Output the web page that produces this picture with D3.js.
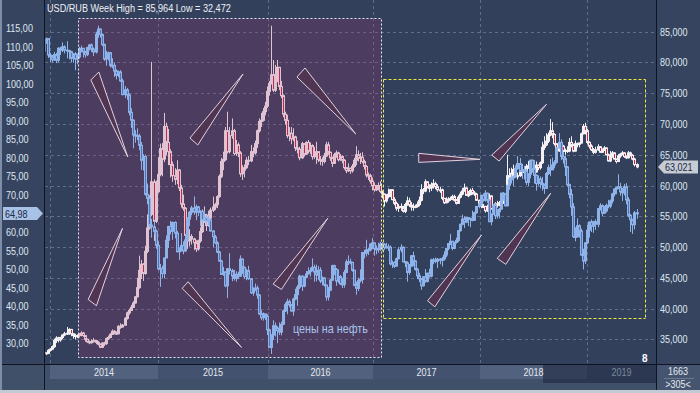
<!DOCTYPE html>
<html><head><meta charset="utf-8">
<script src="https://cdn.jsdelivr.net/npm/d3@7"></script>
<style>body{margin:0;background:#34425f;overflow:hidden}svg{display:block}</style>
</head><body>
<script>
// ---------- DATA ----------
const firstWeek = "2013-12-09";            // Monday of the first weekly candle
const years = ["2014","2015","2016","2017","2018","2019"];
const oilTicks = [30,35,40,45,50,55,60,65,70,75,80,85,90,95,100,105,110,115];
const rubTicks = [35,40,45,50,55,60,65,70,75,80,85];
const titleSymbol = "USD/RUB Week";
const oilText = "цены на нефть";
const infoTop = "1663", infoBottom = ">305<", cornerMark = "8";

// Brent, weekly (left axis)
const oilClose = [108.8,111.8,112.2,
107.8,107.3,106.5,107.9,106.4,109.6,109.1,110.0,109.1,109.0,108.7,106.9,108.1,106.7,107.3,109.5,109.6,108.6,107.9,109.8,110.5,109.4,108.6,113.4,114.8,113.3,110.6,106.7,107.2,108.4,105.0,105.0,103.5,102.3,103.2,100.8,97.1,98.4,97.0,92.3,90.2,86.2,86.1,85.9,83.4,79.4,80.4,70.2,69.1,61.9,61.4,60.2,
56.4,50.1,50.2,48.8,53.0,57.8,61.5,60.2,62.6,59.7,54.7,55.3,56.4,54.9,57.9,63.5,65.3,66.5,65.4,66.8,65.4,65.6,63.3,63.9,63.0,63.3,60.3,58.7,57.1,54.6,52.2,48.6,49.2,45.5,50.1,49.6,48.1,47.5,48.6,48.1,52.7,50.5,48.0,49.6,47.4,43.6,44.7,44.9,43.0,37.9,36.9,37.9,
37.3,33.6,28.9,32.2,34.7,34.1,33.4,33.0,35.1,38.7,40.4,41.2,40.4,38.7,41.9,43.1,45.1,48.1,45.4,47.8,48.7,49.3,49.6,50.5,49.2,48.4,49.7,46.8,47.6,45.7,42.5,44.3,47.0,50.9,49.9,46.8,48.0,46.0,45.9,49.1,51.9,52.0,51.8,49.7,45.6,44.8,46.9,47.2,54.5,54.3,55.2,55.2,56.8,
57.1,55.5,55.5,55.5,56.8,56.7,55.8,56.0,55.9,51.4,51.8,50.8,52.8,55.2,55.9,52.0,51.7,49.1,50.8,53.6,52.2,49.95,48.2,47.4,45.5,47.9,46.7,48.9,48.1,52.5,52.4,52.1,52.7,52.4,52.75,53.8,55.6,56.9,57.5,55.6,57.2,57.75,60.4,62.1,63.5,62.7,63.9,63.7,63.4,63.2,65.25,66.9,
67.6,69.9,68.6,70.5,68.6,62.8,64.8,67.3,64.4,65.5,66.2,70.5,70.3,67.1,72.6,74.1,74.6,74.9,77.1,78.5,76.4,76.8,76.5,73.4,75.6,79.4,77.1,75.3,73.1,74.3,73.2,72.8,71.8,75.8,77.4,76.8,78.1,78.8,82.7,84.2,80.4,79.8,77.6,72.8,70.2,66.8,58.8,58.7,61.7,60.3,53.8,52.2,
57.1,60.5,62.7,61.6,62.8,62.1,66.3,67.1,65.1,65.7,67.2,67.0,68.4,70.3,71.6,72.0,72.2,70.85,70.6,72.2,68.7,64.5,63.3,62.0,65.2,64.98];
const oilHigh = [110.0,111.9,112.5,
112.3,108.4,107.8,108.6,108.4,109.9,110.0,111.2,110.4,111.5,109.2,108.9,108.3,108.6,108.2,110.0,110.3,109.7,108.9,110.0,110.7,110.9,109.8,114.1,115.7,114.9,113.6,110.9,108.9,108.7,108.5,106.9,105.8,103.9,103.6,103.7,101.4,99.4,98.9,97.4,93.4,90.4,87.5,88.0,86.5,84.3,81.0,80.9,73.1,70.0,63.6,62.9,
60.7,57.5,51.4,50.9,53.1,59.1,61.7,63.0,62.8,62.9,60.3,55.9,59.7,57.5,59.3,64.0,65.7,67.1,69.6,67.4,67.0,65.9,65.9,65.8,64.6,64.4,63.6,60.5,59.2,57.5,54.9,52.5,50.6,49.4,50.3,54.3,50.1,49.8,49.4,49.3,53.7,52.9,50.7,50.1,50.9,47.6,45.1,46.1,45.6,43.2,38.9,38.3,
38.0,37.8,33.9,32.4,36.2,35.6,34.6,35.6,35.8,39.1,41.0,42.0,41.8,40.6,42.3,44.7,45.7,48.5,48.3,48.1,49.5,50.5,50.4,52.9,51.2,51.2,50.8,50.5,48.0,47.8,45.8,45.2,47.4,51.2,51.2,50.3,49.9,48.4,47.6,49.8,52.6,53.7,52.8,52.0,49.8,46.6,47.7,49.9,54.6,55.2,57.9,55.8,56.9,
58.4,57.1,56.4,57.1,57.4,57.3,57.0,57.1,56.8,56.4,52.3,52.1,53.1,55.9,56.7,56.1,52.2,52.1,51.4,53.8,54.7,52.4,50.3,49.0,47.6,48.1,50.0,49.0,50.1,52.8,53.0,53.1,53.0,53.0,53.3,54.8,55.7,57.0,59.5,57.6,57.4,58.5,60.5,62.3,64.7,64.3,64.1,64.0,63.9,65.8,65.5,67.0,
68.3,70.1,70.4,71.3,70.6,69.0,65.0,67.5,67.8,66.2,66.5,70.6,70.8,70.4,72.7,74.8,75.5,75.3,78.0,80.5,80.0,78.4,77.9,77.1,75.9,79.5,79.6,79.4,75.6,75.3,75.0,74.9,73.1,76.2,78.2,79.7,80.1,79.4,82.9,86.7,85.0,81.6,80.7,77.8,73.1,71.6,67.8,61.3,63.7,62.1,60.9,55.5,
57.3,61.9,62.8,63.4,63.0,63.4,66.5,67.8,67.5,67.1,67.7,68.7,68.8,70.6,71.8,72.3,75.6,73.3,71.9,73.0,73.2,69.4,64.9,63.6,65.7,66.2];
const oilLow = [107.5,108.5,110.8,
107.0,105.9,105.8,106.2,105.6,105.8,107.8,108.6,108.2,106.9,106.6,105.9,105.7,103.7,105.3,106.8,108.5,107.1,107.1,107.5,109.0,108.6,107.5,108.2,112.4,112.5,110.2,106.2,104.9,106.3,104.4,104.2,101.9,101.2,101.8,100.6,96.9,96.2,95.7,91.5,88.1,82.6,84.1,84.8,82.1,76.8,76.6,69.8,67.5,61.2,58.5,59.2,
55.5,49.7,45.2,47.5,47.5,53.0,55.7,59.4,57.9,58.3,54.5,52.5,54.7,54.0,54.7,57.4,61.6,64.5,64.7,63.2,64.3,61.6,61.9,62.7,61.9,61.9,60.1,55.9,56.7,54.3,52.0,48.4,48.2,45.1,42.2,48.5,46.7,46.9,46.6,47.3,47.9,48.7,47.4,47.0,47.1,43.3,42.8,44.1,42.0,37.7,36.2,36.1,
36.3,32.2,28.8,27.1,30.9,31.8,30.0,32.2,32.1,35.0,38.4,37.8,39.7,38.5,37.4,41.6,40.1,44.6,44.1,45.1,47.5,48.6,48.0,49.4,46.6,46.7,47.1,46.2,45.6,45.3,41.5,41.5,44.2,46.9,48.4,45.5,46.2,45.7,44.9,45.0,48.9,51.1,51.3,49.3,45.4,43.1,44.1,46.4,46.1,52.9,53.4,53.8,54.8,
55.4,53.6,54.0,54.4,54.9,54.8,55.2,55.5,54.9,51.0,50.3,50.3,50.7,52.6,54.5,51.8,50.5,46.6,48.5,50.6,50.8,49.6,47.3,46.5,44.4,45.3,46.3,46.4,47.7,47.8,51.3,51.6,50.3,51.3,50.7,52.3,53.2,55.1,56.5,55.1,55.4,56.9,57.3,60.1,61.8,61.1,62.4,61.6,61.3,62.9,63.0,64.9,
66.4,67.0,68.2,68.2,67.8,62.7,61.8,64.6,63.5,63.6,63.7,66.0,68.6,66.9,66.9,71.4,73.1,72.4,74.6,76.8,76.2,74.4,74.2,72.7,72.3,74.5,76.0,73.1,71.2,72.5,71.8,71.2,70.3,71.6,75.4,75.1,76.7,77.2,78.5,82.5,79.4,78.5,75.1,72.3,69.1,64.4,58.4,57.5,58.6,58.5,53.6,49.9,
51.4,56.7,58.5,60.0,59.8,60.6,61.3,65.8,64.2,64.9,65.3,66.4,66.4,67.7,69.6,70.2,71.6,69.8,68.4,69.9,67.5,64.0,60.0,59.5,60.7,63.6];

// USD/RUB, weekly (right axis)
const rubClose = [32.9,32.8,32.7,
33.2,33.4,33.8,34.8,35.2,34.9,35.3,35.7,35.9,36.0,36.6,35.9,35.6,35.6,35.6,35.8,36.0,35.6,35.0,34.6,34.6,34.6,34.8,34.5,34.2,33.7,34.4,34.3,35.1,35.3,35.8,36.3,36.0,35.9,37.1,37.0,37.3,38.4,39.3,39.7,40.2,40.9,41.9,43.4,46.2,47.2,45.7,49.3,53.1,55.3,60.6,54.2,
59.0,61.8,66.0,64.3,69.6,67.0,65.5,63.4,61.6,61.0,62.5,59.6,57.0,56.3,51.9,51.0,51.7,51.3,50.7,49.7,51.0,52.5,55.3,55.2,53.5,54.7,56.0,56.5,56.9,58.2,61.5,63.9,64.2,68.9,65.5,68.1,68.9,65.2,66.6,65.3,61.9,62.5,62.9,64.1,64.0,65.5,65.3,66.8,68.9,70.4,70.6,72.0,
72.9,75.3,76.6,78.0,75.5,78.0,79.2,76.1,74.6,71.6,70.6,68.1,68.5,67.6,67.9,66.1,65.9,64.5,66.8,65.1,67.0,65.6,66.5,64.7,65.0,65.5,64.2,64.1,63.9,64.8,66.6,65.4,64.5,63.6,65.0,65.3,64.2,64.7,64.1,62.9,62.4,62.8,62.4,63.1,64.1,65.0,64.5,64.6,63.9,63.1,61.7,61.6,60.7,
60.0,59.3,59.6,60.0,59.0,58.6,57.5,58.2,58.6,59.3,57.7,57.1,56.3,56.6,56.4,55.8,56.9,57.5,56.8,56.5,56.6,56.6,56.9,57.6,59.3,59.1,60.6,59.7,59.6,60.1,60.3,59.8,59.3,59.3,57.9,57.2,57.5,57.8,57.9,58.2,57.6,57.1,58.1,58.6,59.1,59.6,58.4,58.5,59.2,58.8,58.6,57.6,
57.0,56.6,56.6,55.9,56.4,58.3,56.2,56.3,57.0,56.8,57.2,57.4,57.3,57.6,61.6,61.3,62.0,62.6,61.6,61.6,62.2,62.3,62.3,63.1,63.2,62.9,62.9,62.2,63.3,62.9,63.7,66.2,66.6,67.2,68.2,68.9,68.3,66.8,65.6,66.2,66.4,65.6,65.7,65.6,67.0,66.6,65.6,66.8,66.7,66.9,68.4,69.6,
68.9,67.0,66.4,65.8,65.4,65.8,66.3,65.4,65.9,66.1,65.0,64.0,64.7,65.3,64.3,63.9,64.8,65.1,65.3,64.7,64.5,65.3,64.9,64.3,63.4,63.021];
const rubHigh = [33.1,33.1,32.9,
33.4,33.6,34.0,35.1,35.5,35.4,35.4,35.8,36.2,37.0,36.8,36.7,36.0,35.9,35.8,36.0,36.3,36.2,35.7,35.1,34.8,35.0,35.2,34.9,34.7,34.3,34.5,34.6,35.3,35.6,36.0,36.6,36.5,36.3,37.3,37.6,37.5,38.6,39.5,40.0,40.6,41.2,42.0,45.0,48.6,47.9,47.4,50.2,55.3,58.4,80.1,61.0,
60.8,64.6,66.8,66.9,71.8,70.2,69.2,65.9,63.9,62.8,64.1,62.7,60.1,58.5,56.5,53.6,52.9,52.1,51.5,51.1,51.2,53.2,56.1,56.6,55.4,55.9,56.4,58.2,57.2,58.4,61.8,64.5,65.5,69.5,72.0,69.5,70.9,69.2,67.4,67.0,65.6,63.3,63.4,64.6,64.8,66.6,66.2,67.3,69.1,70.9,71.8,72.6,
73.6,76.1,77.0,85.964,80.4,79.6,80.4,79.3,77.0,74.8,72.0,71.5,69.5,69.5,69.3,68.1,67.3,66.3,67.1,66.9,67.2,67.4,67.0,66.7,66.3,67.1,65.6,64.8,64.6,65.3,67.1,67.1,65.5,64.7,65.3,65.7,65.5,65.1,64.9,64.3,63.0,63.6,62.9,63.5,64.5,66.4,65.7,65.3,65.4,64.2,63.3,62.1,61.9,
61.3,60.5,60.1,60.5,60.7,59.2,58.7,58.6,59.5,59.4,59.4,58.1,57.4,57.0,57.1,56.7,57.2,58.2,58.0,57.3,57.1,56.9,57.4,58.2,60.2,59.6,61.0,60.7,60.2,60.5,61.0,60.6,60.2,59.8,59.5,58.0,58.1,58.1,58.2,58.5,58.5,57.8,58.4,59.0,59.6,60.3,59.7,59.1,59.5,59.6,59.1,58.8,
57.7,57.3,57.0,56.7,56.9,58.7,58.4,56.9,57.3,57.5,57.5,57.8,57.6,58.0,65.0,62.8,62.9,63.4,63.1,62.1,62.7,62.6,62.7,63.5,64.0,63.4,63.5,63.1,63.9,63.4,63.9,67.1,68.0,68.5,68.6,70.8,70.3,68.5,66.9,67.4,67.3,66.6,66.0,66.4,67.7,68.0,66.8,67.3,67.0,67.0,68.6,70.0,
70.2,69.2,67.2,66.7,66.1,66.3,66.7,66.4,66.0,66.4,66.2,65.2,65.6,65.6,65.4,64.4,65.1,65.3,65.6,65.4,64.9,65.6,65.5,65.1,64.5,63.6];
const rubLow = [32.6,32.6,32.472,
32.6,33.0,33.3,33.6,34.4,34.5,34.6,35.0,35.5,35.7,35.7,35.5,35.1,35.0,35.2,35.3,35.5,35.4,34.6,34.4,34.2,34.3,34.5,34.2,34.0,33.6,33.6,33.9,34.1,34.9,35.2,35.7,35.8,35.7,35.8,36.7,36.9,37.2,38.2,39.0,39.6,40.1,40.8,41.8,43.2,44.8,44.5,45.5,49.0,52.8,55.0,51.0,
53.9,58.8,61.5,61.5,63.8,64.9,63.3,61.3,60.6,60.1,60.2,59.1,56.4,55.9,51.2,49.7,50.1,50.4,49.5,49.2,49.4,50.7,52.3,53.9,52.6,53.3,54.5,55.7,56.0,56.3,58.0,61.2,62.5,64.0,65.2,65.2,67.6,64.9,64.8,64.6,61.4,60.9,61.3,62.7,63.3,63.8,64.6,65.0,66.1,68.6,69.5,70.4,
71.4,72.6,74.6,76.4,75.2,75.2,76.8,75.5,74.2,71.1,69.9,67.7,67.2,66.7,67.2,65.6,65.2,64.1,64.3,64.7,65.0,65.2,65.1,64.2,64.3,63.5,63.8,63.3,63.2,63.6,64.6,65.0,64.0,63.0,63.5,64.5,63.9,64.0,63.6,62.6,62.0,62.2,61.9,62.1,62.9,63.3,63.9,63.5,63.6,62.6,61.3,60.9,60.3,
59.2,59.0,59.1,59.2,58.8,57.9,56.6,57.2,57.9,58.1,57.6,56.8,55.9,55.7,55.9,55.6,55.5,56.7,56.5,55.9,55.9,56.3,56.4,56.6,57.4,58.6,58.9,59.5,58.9,59.1,59.5,59.4,59.0,58.8,57.6,57.0,57.1,57.2,57.5,57.6,57.4,56.9,57.0,57.9,58.4,59.0,58.3,58.1,58.4,58.5,58.3,57.5,
56.8,56.3,56.4,55.6,55.7,56.2,56.1,55.8,56.1,56.4,56.6,56.8,57.0,57.0,57.5,60.5,60.9,61.5,61.4,61.0,61.4,61.7,61.8,62.1,62.7,62.5,62.6,61.9,62.1,62.5,62.6,63.5,65.8,66.4,66.9,68.0,67.7,66.5,65.3,65.5,65.7,65.4,65.0,65.3,65.4,66.2,65.4,65.5,66.2,66.2,66.8,68.3,
68.3,66.7,66.0,65.6,65.1,65.2,65.6,65.3,65.3,65.6,64.9,63.9,63.8,64.5,64.2,63.6,63.8,64.5,64.9,64.5,64.3,64.4,64.7,64.1,63.1,62.8];

// annotation wedges, in (date, USD/RUB value) space: [base1, base2, tip]
const wedges = [
 [["2014-05-19",77.15],["2014-06-15",78.45],["2014-09-21",64.63]],
 [["2015-04-17",67.72],["2015-05-13",66.58],["2015-10-10",78.12]],
 [["2016-04-11",77.63],["2016-05-09",79.10],["2016-11-02",68.37]],
 [["2017-06-06",65.23],["2017-06-06",63.76],["2018-01-01",64.25]],
 [["2018-02-10",64.95],["2018-03-07",63.98],["2018-08-16",73.20]],
 [["2014-05-10",41.49],["2014-06-07",40.45],["2014-09-03",53.03]],
 [["2015-03-22",43.28],["2015-04-11",44.35],["2015-10-05",33.68]],
 [["2016-01-19",43.98],["2016-02-17",43.11],["2016-07-27",54.66]],
 [["2017-07-06",41.26],["2017-07-31",40.28],["2018-01-06",51.94]],
 [["2018-03-01",48.15],["2018-03-30",47.18],["2018-08-30",58.72]]
];
// highlighted periods: [start, end, top, bottom] in (date, USD/RUB value)
const pinkZone = ["2014-04-05","2017-01-28",87.23,32.19];
const yellowZone = ["2017-02-04","2019-07-18",77.31,38.53];

// ---------- CHART ----------
const W=700,H=393, L=45, R=656, B=364;
const svg = d3.select("body").append("svg").attr("width",W).attr("height",H)
  .style("font-family","'Liberation Sans',Arial,sans-serif");
const parse = d3.timeParse("%Y-%m-%d");
const loc = d3.formatLocale({decimal:",",thousands:" ",grouping:[3],currency:["",""]});
const f2 = loc.format(".2f"), f3 = loc.format(".3f");

const yearDates = years.concat([String(+years[years.length-1]+1)]).map(y=>new Date(+y,0,1));
const x = d3.scaleTime().domain(yearDates).range([50,158,268,373,480,587,694]);
const yOil = d3.scaleLinear().domain([30,115]).range([343.2,28.3]);
const yRub = d3.scaleLinear().domain([35,85]).range([339.3,31.7]);
const start = parse(firstWeek);
const weeks = oilClose.map((_,i)=>d3.timeWeek.offset(start,i));
const cx = d => Math.round(x(d)-1.5);

// condensed text helper (the original UI font is narrow)
function ctext(g, px, py, str, o={}){
  const sx = o.sx || 0.82;
  return g.append("text").attr("transform",`translate(${px},${py}) scale(${sx},1)`)
    .attr("text-anchor",o.anchor||"start").attr("fill",o.fill||"#dfe6f1")
    .attr("font-size",o.size||11).attr("font-weight",o.weight||"normal").text(str);
}

// backgrounds
svg.append("rect").attr("width",W).attr("height",H).attr("fill","#34425f");
svg.append("rect").attr("x",0).attr("y",0).attr("width",L).attr("height",B).attr("fill","#36445f");
svg.append("rect").attr("x",R).attr("y",0).attr("width",W-R).attr("height",B).attr("fill","#36445f");
svg.append("rect").attr("x",L).attr("y",0).attr("width",R-L).attr("height",B).attr("fill","#33405c");

svg.append("defs").append("clipPath").attr("id","clip").append("rect")
  .attr("x",L+0.5).attr("y",0).attr("width",R-L-1).attr("height",B);
const plot = svg.append("g").attr("clip-path","url(#clip)");

// grid
const gridCol = "rgba(150,165,195,0.45)";
plot.append("g").selectAll("line").data(rubTicks).join("line")
  .attr("x1",L).attr("x2",R).attr("y1",d=>Math.round(yRub(d))+0.5).attr("y2",d=>Math.round(yRub(d))+0.5)
  .attr("stroke",gridCol).attr("stroke-dasharray","3,3");
plot.append("g").selectAll("line").data(yearDates.slice(0,-1)).join("line")
  .attr("x1",d=>Math.round(x(d))+0.5).attr("x2",d=>Math.round(x(d))+0.5).attr("y1",0).attr("y2",B)
  .attr("stroke",gridCol).attr("stroke-dasharray","3,3");

function candles(g, close, high, low, y, col){
  const data = close.map((c,i)=>({d:weeks[i], o: i?close[i-1]:c, c, h:high[i], l:low[i]}));
  g.append("g").selectAll("line").data(data).join("line")
    .attr("x1",d=>cx(d.d)+0.5).attr("x2",d=>cx(d.d)+0.5)
    .attr("y1",d=>y(d.h)).attr("y2",d=>y(d.l)).attr("stroke",col.wick).attr("stroke-width",1);
  g.append("g").selectAll("rect").data(data).join("rect")
    .attr("x",d=>cx(d.d)-0.5).attr("width",2)
    .attr("y",d=>y(Math.max(d.o,d.c)))
    .attr("height",d=>Math.max(1,Math.abs(y(d.o)-y(d.c))))
    .attr("fill",d=>d.c>=d.o?col.up:col.down).attr("stroke",col.stroke).attr("stroke-width",1);
}

// USD/RUB candles
candles(plot, rubClose, rubHigh, rubLow, yRub, {wick:"#f4f0f4",stroke:"#f4f0f4",up:"#f4f0f4",down:"#c42a40"});

// pink zone (tint over RUB candles)
const pz = {x0:x(parse(pinkZone[0])), x1:x(parse(pinkZone[1])), y0:yRub(pinkZone[2]), y1:yRub(pinkZone[3])};
plot.append("rect").attr("x",Math.round(pz.x0)+0.5).attr("y",Math.round(pz.y0)+0.5)
  .attr("width",Math.round(pz.x1-pz.x0)).attr("height",Math.round(pz.y1-pz.y0))
  .attr("fill","rgba(160,55,110,0.24)");

// oil candles
candles(plot, oilClose, oilHigh, oilLow, yOil, {wick:"#8fb3e8",stroke:"#8fb3e8",up:"#8fb3e8",down:"#4f74b8"});

// zone borders
plot.append("rect").attr("x",Math.round(pz.x0)+0.5).attr("y",Math.round(pz.y0)+0.5)
  .attr("width",Math.round(pz.x1-pz.x0)).attr("height",Math.round(pz.y1-pz.y0))
  .attr("fill","none").attr("stroke","#e8e8f0").attr("stroke-dasharray","2,2");
const yz = {x0:Math.round(x(parse(yellowZone[0])))+0.5, x1:Math.round(x(parse(yellowZone[1])))+0.5,
            y0:Math.round(yRub(yellowZone[2]))+0.5, y1:Math.round(yRub(yellowZone[3]))+0.5};
plot.append("g").selectAll("line").data([
    [yz.x0,yz.y0,yz.x1,yz.y0],[yz.x1,yz.y0,yz.x1,yz.y1],[yz.x0,yz.y1,yz.x1,yz.y1],[yz.x0,yz.y0,yz.x0,yz.y1]])
  .join("line").attr("x1",d=>d[0]).attr("y1",d=>d[1]).attr("x2",d=>d[2]).attr("y2",d=>d[3])
  .attr("stroke","#eaea44").attr("stroke-width",1).attr("stroke-dasharray","3,2");

// wedges
plot.append("g").selectAll("path").data(wedges).join("path")
  .attr("d",w=>"M"+w.map(p=>[x(parse(p[0])),yRub(p[1])].join(",")).join("L")+"Z")
  .attr("fill","#4f3552").attr("stroke","#e2d2de").attr("stroke-width",1).attr("stroke-linejoin","miter");

// oil label
ctext(plot, 293, 333, oilText, {fill:"#a9c3ec", size:12, sx:0.9});
ctext(plot, 642, 362, cornerMark, {fill:"#ffffff", size:10, weight:"bold", sx:1});

// title
ctext(svg, 47, 12, `${titleSymbol} High = ${f3(d3.max(rubHigh))} Low = ${f3(d3.min(rubLow))}`, {fill:"#eef1f6", sx:0.83});

// last value positions (tick labels hidden under the tags)
const lastOil = oilClose[oilClose.length-1], lastRub = rubClose[rubClose.length-1];
const yo = yOil(lastOil), yr = yRub(lastRub);

// left axis labels
const lg = svg.append("g");
oilTicks.filter(d=>Math.abs(yOil(d)-yo)>10).forEach(d=>ctext(lg, 6, yOil(d)+4, f2(d)));
// right axis labels
const rg = svg.append("g");
rubTicks.filter(d=>Math.abs(yRub(d)-yr)>10).forEach(d=>ctext(rg, 660, yRub(d)+4, f3(d)));

// last value tags
svg.append("path").attr("d",`M3,${yo-6.5}L37,${yo-6.5}L43,${yo}L37,${yo+6.5}L3,${yo+6.5}Z`).attr("fill","#a8c2e6");
ctext(svg, 5, yo+4, f2(lastOil), {fill:"#1d2a44"});
svg.append("path").attr("d",`M658,${yr}L664,${yr-6.5}L698,${yr-6.5}L698,${yr+6.5}L664,${yr+6.5}Z`).attr("fill","#c6cbd4");
ctext(svg, 665, yr+4, f3(lastRub), {fill:"#1d2a44"});

// time axis
svg.append("rect").attr("x",0).attr("y",B).attr("width",W).attr("height",H-B).attr("fill","#405069");
const yearBands = yearDates.slice(0,-1).map((d,i)=>({y:years[i],x0:x(d),x1:Math.min(R,x(yearDates[i+1]))}));
svg.append("g").selectAll("rect").data(yearBands).join("rect")
  .attr("x",d=>d.x0).attr("y",B+1).attr("width",d=>d.x1-d.x0).attr("height",14)
  .attr("fill",(d,i)=>i%2===0?"#52617d":"#43536f");
svg.append("rect").attr("x",543).attr("y",B+1).attr("width",R-543).attr("height",18).attr("fill","rgba(25,35,58,0.55)");
const tg = svg.append("g");
yearBands.forEach(d=>{
  const mx=(d.x0+d.x1)/2;
  ctext(tg, mx, B+12, d.y, {anchor:"middle", fill: mx>543?"#7d889c":"#e4e8ef"});
});
svg.append("rect").attr("x",R).attr("y",B).attr("width",W-R).attr("height",26).attr("fill","#46556f");
svg.append("line").attr("x1",R+8).attr("x2",W-6).attr("y1",378.5).attr("y2",378.5).attr("stroke","#6c7a92");
ctext(svg, 678, 375, infoTop, {anchor:"middle", fill:"#e4e8ef"});
ctext(svg, 678, 388, infoBottom, {anchor:"middle", fill:"#e4e8ef"});

// frame lines
svg.append("line").attr("x1",0).attr("x2",W).attr("y1",B+0.5).attr("y2",B+0.5).attr("stroke","#0e1424");
svg.append("line").attr("x1",L-0.5).attr("x2",L-0.5).attr("y1",0).attr("y2",390).attr("stroke","#0e1424");
svg.append("line").attr("x1",R+0.5).attr("x2",R+0.5).attr("y1",0).attr("y2",390).attr("stroke","#0e1424");
svg.append("rect").attr("x",0).attr("y",390).attr("width",W).attr("height",3).attr("fill","#c4cad3");
svg.append("rect").attr("x",0).attr("y",0).attr("width",2).attr("height",390).attr("fill","#7f8ea8");
</script>
</body></html>
